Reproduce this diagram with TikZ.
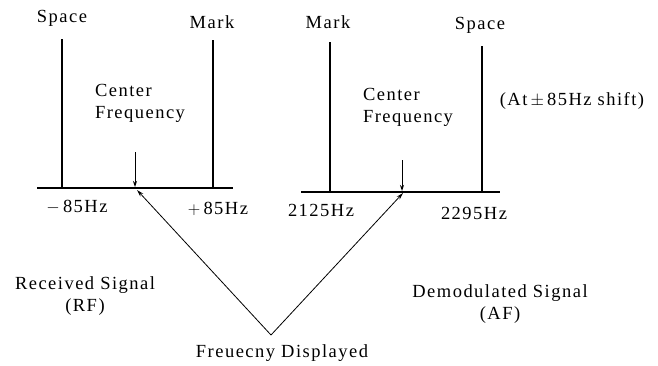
\documentclass[tikz,border=0pt]{standalone}
\usepackage{fontspec}
\setmainfont{Liberation Serif}[LetterSpace=8]
\usetikzlibrary{arrows.meta}
\begin{document}
\begin{tikzpicture}[x=1pt,y=-1pt,
  lbl/.style={font=\fontsize{18.5}{22}\selectfont, inner sep=0pt, align=center},
  bar/.style={line width=1.8pt},
  base/.style={line width=2.2pt},
  ptr/.style={line width=1pt,-{Stealth[length=6pt,width=4pt]}},
  vline/.style={line width=0.8pt,-{Stealth[length=7pt,width=4pt]}}]
\useasboundingbox (0,0) rectangle (658,365);
% left spectrum
\coordinate (lb1) at (37,188); \coordinate (lb2) at (233,188);
\draw[base] (lb1) -- (lb2);
\draw[bar] (62,39) -- (62,188);
\draw[bar] (213,40) -- (213,188);
\draw[ptr] (135,152) -- (135,187);
% right spectrum
\coordinate (rb1) at (301,192); \coordinate (rb2) at (500,192);
\draw[base] (rb1) -- (rb2);
\draw[bar] (330,42) -- (330,192);
\draw[bar] (482,46) -- (482,193);
\draw[ptr] (402,160) -- (402,191);
% labels
\node[lbl] (sp1) at (62,18) {Space};
\node[lbl] (mk1) at (212,22) {Mark};
\node[lbl] (mk2) at (328,22) {Mark};
\node[lbl] (sp2) at (480,25) {Space};
\node[lbl, align=left] (cf1) at (140,103) {Center\\Frequency};
\node[lbl, align=left] (cf2) at (408,107) {Center\\Frequency};
\node[lbl] (shift) at (572,101) {(At\,$\pm$\,85Hz shift)};
\node[lbl] (m85) at (77,207) {$-$\,85Hz};
\node[lbl] (p85) at (218,209) {$+$\,85Hz};
\node[lbl] (f1) at (321,210) {2125Hz};
\node[lbl] (f2) at (474,213) {2295Hz};
\node[lbl] (rx) at (85,296) {Received Signal\\(RF)};
\node[lbl] (dm) at (500,304) {Demodulated Signal\\(AF)};
\node[lbl] (fd) at (282,353) {Freuecny Displayed};
% V connectors
\coordinate (apex) at (271,335);
\coordinate (lc) at (137,190);
\coordinate (rc) at (403,193);
\draw[vline] (apex) -- (lc);
\draw[vline] (apex) -- (rc);
\end{tikzpicture}
\end{document}
